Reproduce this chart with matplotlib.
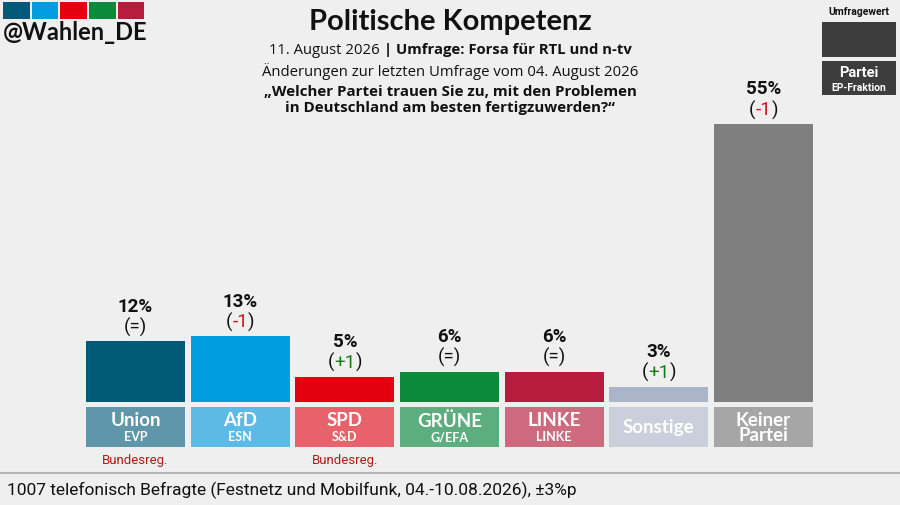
import matplotlib
matplotlib.use('Agg')
import matplotlib.pyplot as plt
from matplotlib.patches import Rectangle

# data
parties  = ['Union', 'AfD', 'SPD', 'GRÜNE', 'LINKE', 'Sonstige', 'Keiner\nPartei']
groups   = ['EVP', 'ESN', 'S&D', 'G/EFA', 'LINKE', '', '']
values   = [12, 13, 5, 6, 6, 3, 55]
changes  = ['=', '-1', '+1', '=', '=', '+1', '-1']
govt     = [True, False, True, False, False, False, False]
bar_cols = ['#005a78', '#009ee0', '#e3000f', '#0b8a3c', '#b71c3e', '#aab5c9', '#7f7f7f']
box_cols = ['#5f96aa', '#5cbae6', '#e8626b', '#5cae7e', '#cd6a7e', '#c9d0dc', '#a6a6a6']
logo_cols = ['#005a78', '#009ee0', '#e3000f', '#0b8a3c', '#b71c3e']

BG = '#efefef'
W, H = 900, 506

fig = plt.figure(figsize=(9, 5.06), dpi=100, facecolor=BG)

# pixel overlay for texts/decoration
bg = fig.add_axes([0, 0, 1, 1])
bg.set_xlim(0, W)
bg.set_ylim(H, 0)
bg.axis('off')
bg.set_facecolor(BG)

# bar axes: baseline at px 403, 55% at px 125
x0, x1 = 83.2, 815.8
ybase, ytop = 403.0, 125.0
ax = fig.add_axes([x0 / W, (H - ybase) / H, (x1 - x0) / W, (ybase - ytop) / H])
ax.set_xlim(-0.5, len(values) - 0.5)
ax.set_ylim(0, 55)
ax.axis('off')
ax.patch.set_alpha(0)

pxpp = (ybase - ytop) / 55.0  # pixels per percent
BW = 0.946
FS = 13.5

def py(p):
    # pixel y -> data y
    return (ybase - p) / pxpp

xs = range(len(values))
ax.bar(xs, values, width=BW, color=bar_cols)

fig.canvas.draw()
ren = fig.canvas.get_renderer()

for i, v in enumerate(values):
    ax.text(i, v + 35.5 / pxpp, f'{v}%', ha='center', va='center',
            fontsize=FS, fontweight='bold', family='Roboto', color='#111111')
    ch = changes[i]
    yv = v + 15 / pxpp
    if ch == '=':
        ax.text(i, yv, '(=)', ha='center', va='center',
                fontsize=FS, family='Roboto', color='#111111')
    else:
        c = '#d0131c' if ch.startswith('-') else '#1a7a1a'
        tmp = ax.text(0, 0, '(' + ch + ')', fontsize=FS, family='Roboto')
        wfull = tmp.get_window_extent(ren).width
        tmp.remove()
        xc = ax.transData.transform((i, yv))
        lx = ax.transData.inverted().transform((xc[0] - wfull / 2, xc[1]))[0]
        a = ax.text(lx, yv, '(', ha='left', va='center', fontsize=FS,
                    family='Roboto', color='#111111')
        b = ax.annotate(ch, xy=(1, 0.5), xycoords=a, ha='left', va='center',
                        fontsize=FS, family='Roboto', color=c)
        ax.annotate(')', xy=(1, 0.5), xycoords=b, ha='left', va='center',
                    fontsize=FS, family='Roboto', color='#111111')
    # label boxes
    ax.add_patch(Rectangle((i - BW / 2, py(448)), BW, py(408) - py(448),
                           color=box_cols[i], clip_on=False, lw=0))
    if groups[i]:
        ax.text(i, py(421), parties[i], ha='center', va='center', fontsize=13.5,
                fontweight='bold', family='Lato', color='white')
        ax.text(i, py(437.5), groups[i], ha='center', va='center', fontsize=9,
                fontweight='bold', family='Lato', color='white')
    else:
        ax.text(i, py(428), parties[i], ha='center', va='center', fontsize=13.5,
                fontweight='bold', family='Lato', color='white', linespacing=0.92)
    if govt[i]:
        ax.text(i, py(461), 'Bundesreg.', ha='center', va='center', fontsize=9.5,
                family='Roboto', color='#b01a1a')

# header
for k, c in enumerate(logo_cols):
    bg.add_patch(Rectangle((3 + k * 28.7, 3), 26.5, 16.5, color=c, lw=0))
bg.text(3, 32, '@Wahlen_DE', ha='left', va='center', fontsize=17,
        fontweight='bold', family='Lato', color='#111111')

bg.text(450, 22, 'Politische Kompetenz', ha='center', va='center', fontsize=21,
        fontweight='bold', family='Lato', color='#111111')
t = bg.text(269, 50, '11. August 2026 ', ha='left', va='center', fontsize=10.7,
            family='Open Sans', color='#111111')
bg.annotate('| Umfrage: Forsa für RTL und n-tv', xy=(1, 0.5), xycoords=t, ha='left',
            va='center', fontsize=10.7, fontweight='bold', family='Open Sans', color='#111111')
bg.text(450, 71, 'Änderungen zur letzten Umfrage vom 04. August 2026', ha='center',
        va='center', fontsize=10.7, family='Open Sans', color='#111111')
bg.text(450, 100, '\u201eWelcher Partei trauen Sie zu, mit den Problemen\nin Deutschland am besten fertigzuwerden?\u201c',
        ha='center', va='center', fontsize=10.9, fontweight='bold', family='Open Sans',
        color='#111111', linespacing=1.2)

# legend top right
bg.text(859, 12, 'Umfragewert', ha='center', va='center', fontsize=7.5,
        fontweight='bold', family='Roboto', color='#111111')
bg.add_patch(Rectangle((822, 23), 74, 35, color='#3d3d3d', lw=0))
bg.add_patch(Rectangle((822, 62), 74, 34, color='#3d3d3d', lw=0))
bg.text(859, 73, 'Partei', ha='center', va='center', fontsize=10.5,
        fontweight='bold', family='Roboto', color='white')
bg.text(859, 88, 'EP-Fraktion', ha='center', va='center', fontsize=7.5,
        fontweight='bold', family='Roboto', color='white')

# footer
bg.plot([0, W], [473.5, 473.5], color='#b4b4b4', lw=1.5)
bg.text(7, 490, '1007 telefonisch Befragte (Festnetz und Mobilfunk, 04.-10.08.2026), \u00b13%p',
        ha='left', va='center', fontsize=12.5, family='Roboto', color='#111111')

fig.savefig('out.png', dpi=100, facecolor=BG)
